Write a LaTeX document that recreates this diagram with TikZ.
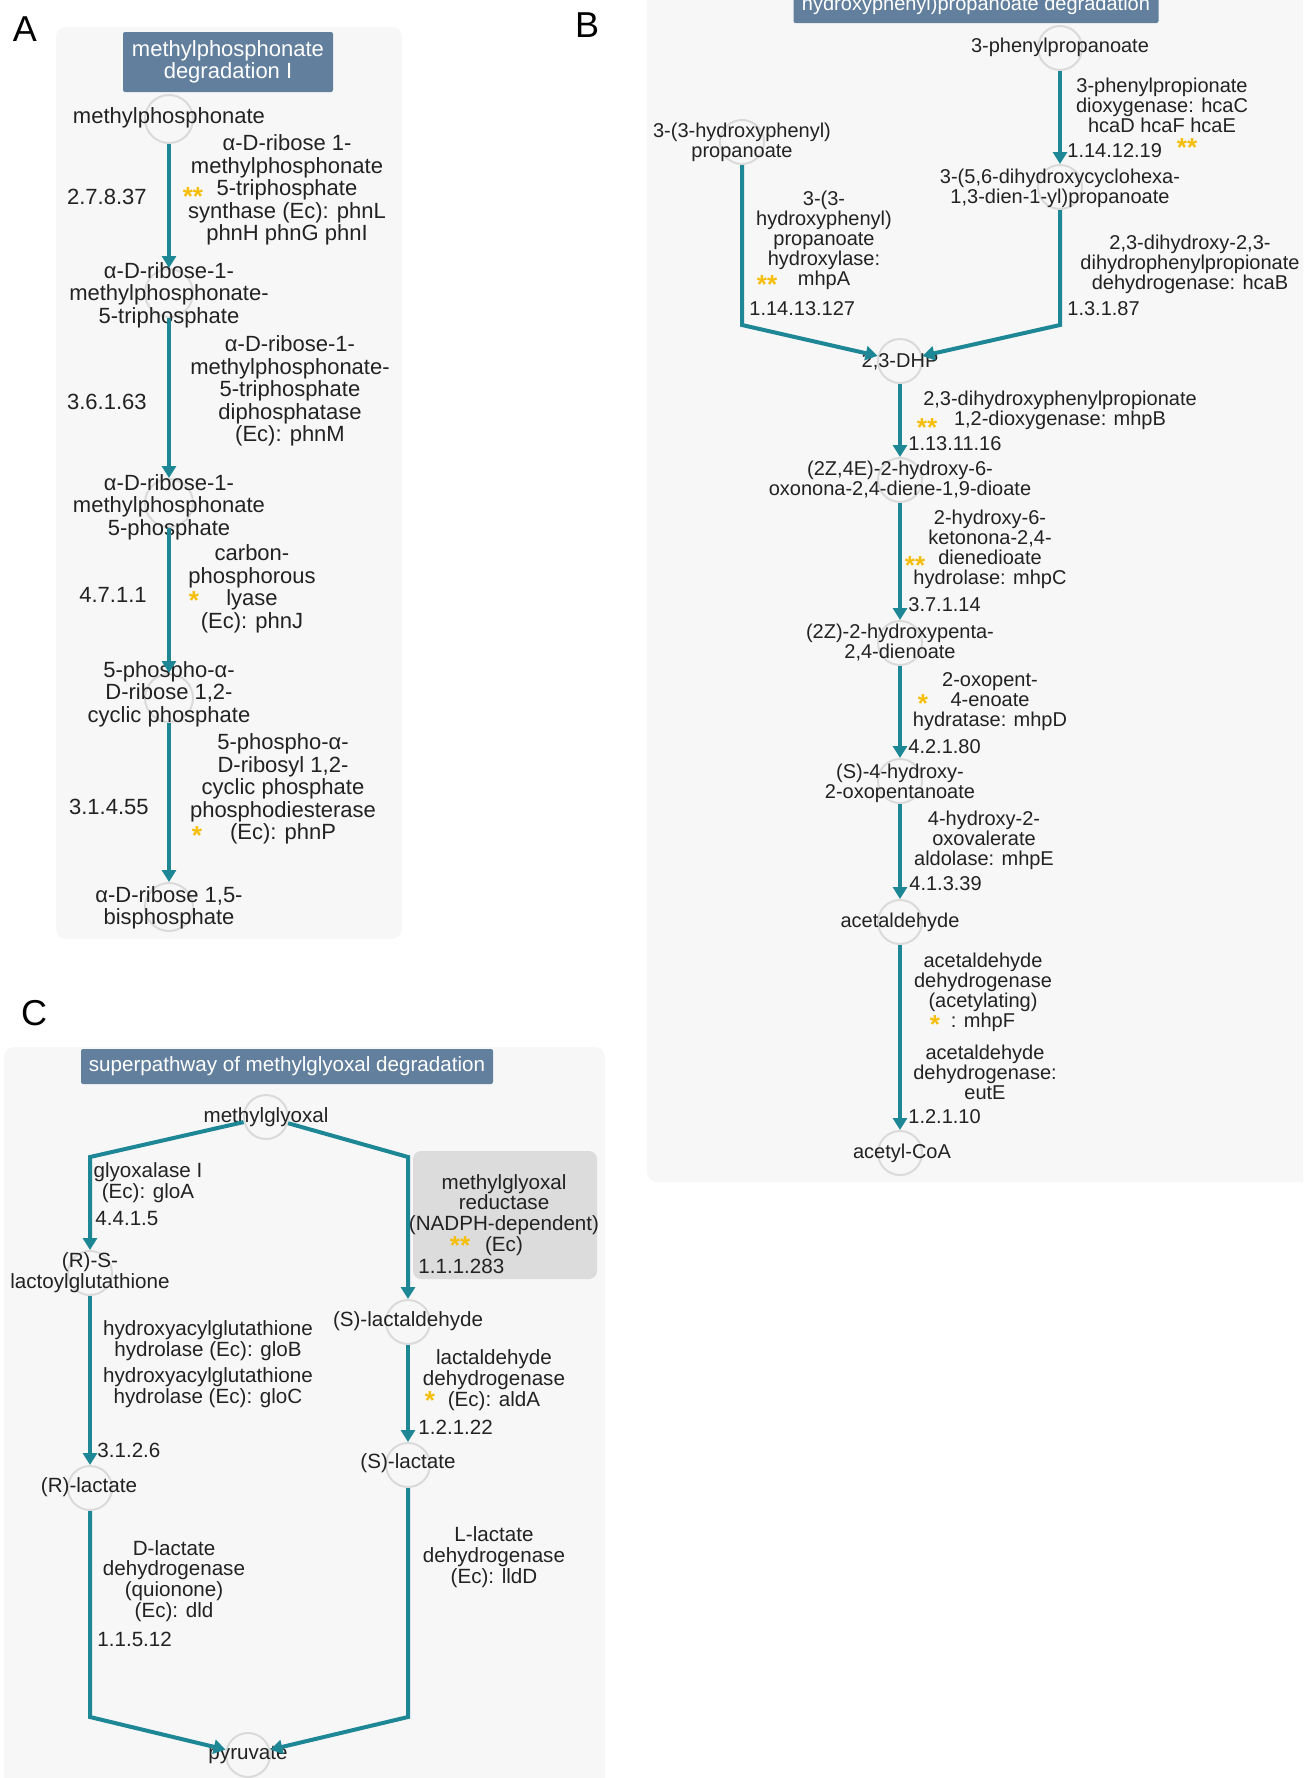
\documentclass[tikz,border=0pt]{standalone}
\usepackage{fontspec}
\setmainfont{Liberation Sans}
\usepackage{tikz}
\usetikzlibrary{arrows.meta}
\definecolor{PanelGrey}{HTML}{F7F7F7}
\definecolor{TitleBlue}{HTML}{62809D}
\definecolor{RingGrey}{HTML}{DADADA}
\definecolor{PathTeal}{HTML}{1E8795}
\definecolor{TextDark}{HTML}{222222}
\definecolor{StarGold}{HTML}{F5BE0B}
\definecolor{BoxGrey}{HTML}{DCDCDC}
\tikzset{
    % Panel and title styles
    panelbg/.style={
        fill=PanelGrey,
        draw=none,
        rounded corners=5pt
    },
    titlebox/.style={
        rectangle,
        fill=TitleBlue,
        draw=none,
        rounded corners=1pt,
        text=white,
        align=center,
        inner sep=0pt
    },
    hlbox/.style={
        rectangle,
        fill=BoxGrey,
        draw=none,
        rounded corners=4pt
    },
    panellabel/.style={
        inner sep=0pt,
        text=black,
        font=\fontsize{18}{18}\selectfont
    },
    % Compound styles
    cpdring/.style={
        circle,
        draw=RingGrey,
        line width=1pt,
        inner sep=0pt,
        minimum size=22pt
    },
    cpdname/.style={
        align=center,
        inner sep=0pt,
        text=TextDark
    },
    % Reaction styles
    enzlabel/.style={
        align=center,
        inner sep=0pt,
        text=TextDark
    },
    eclabel/.style={
        inner sep=0pt,
        text=TextDark
    },
    starmark/.style={
        inner sep=0pt,
        text=StarGold,
        font=\fontsize{13}{13}\selectfont\bfseries
    },
    rxnarrow/.style={
        -{Triangle[width=7pt,length=6pt]},
        draw=PathTeal,
        line width=2pt
    },
    % Font sizes of the three panels
    txtA/.style={font=\fontsize{11}{11.25}\selectfont},
    txtB/.style={font=\fontsize{10}{10}\selectfont},
    txtC/.style={font=\fontsize{10.3}{10.4}\selectfont}
}
\begin{document}
\begin{tikzpicture}[x=0.5pt, y=-0.5pt]
    \useasboundingbox (0,0) rectangle (1303,1778);
    \clip (0,0) rectangle (1303,1778);

    % ---------------- Panel A ----------------
    \fill[panelbg] (56,27) rectangle (402,939);
    \node[panellabel] (labA) at (25,29) {A};
    \node[titlebox, txtA, minimum width=105pt, minimum height=30pt] (titA) at (228,62) {methylphosphonate\\degradation I};

    % Compounds
    \node[cpdring, minimum size=24pt] (a1) at (169,119) {};
    \node[cpdring, minimum size=24pt] (a2) at (169,293) {};
    \node[cpdring, minimum size=24pt] (a3) at (169,503) {};
    \node[cpdring, minimum size=24pt] (a4) at (169,698) {};
    \node[cpdring, minimum size=24pt] (a5) at (169,907) {};
    \node[cpdname, txtA] (a1t) at (169,118) {methylphosphonate};
    \node[cpdname, txtA] (a2t) at (169,295) {α-D-ribose-1-\\methylphosphonate-\\5-triphosphate};
    \node[cpdname, txtA] (a3t) at (169,507) {α-D-ribose-1-\\methylphosphonate\\5-phosphate};
    \node[cpdname, txtA] (a4t) at (169,694) {5-phospho-α-\\D-ribose 1,2-\\cyclic phosphate};
    \node[cpdname, txtA] (a5t) at (169,908) {α-D-ribose 1,5-\\bisphosphate};

    % Enzymes
    \node[enzlabel, txtA] (ea1) at (287,190) {α-D-ribose 1-\\methylphosphonate\\5-triphosphate\\synthase (Ec): phnL\\phnH phnG phnI};
    \node[enzlabel, txtA] (ea2) at (290,391) {α-D-ribose-1-\\methylphosphonate-\\5-triphosphate\\diphosphatase\\(Ec): phnM};
    \node[enzlabel, txtA] (ea3) at (252,589) {carbon-\\phosphorous\\lyase\\(Ec): phnJ};
    \node[enzlabel, txtA] (ea4) at (283,789) {5-phospho-α-\\D-ribosyl 1,2-\\cyclic phosphate\\phosphodiesterase\\(Ec): phnP};
    \node[starmark] (sa1) at (193,197) {**};
    \node[starmark] (sa3) at (194,601) {*};
    \node[starmark] (sa4) at (197,836) {*};
    \node[eclabel, txtA, anchor=east] (eca1) at (147,197) {2.7.8.37};
    \node[eclabel, txtA, anchor=east] (eca2) at (147,402) {3.6.1.63};
    \node[eclabel, txtA, anchor=east] (eca3) at (147,595) {4.7.1.1};
    \node[eclabel, txtA, anchor=east] (eca4) at (149,807) {3.1.4.55};

    % Arrows
    \draw[rxnarrow] (a1) -- (a2);
    \draw[rxnarrow] (a2) -- (a3);
    \draw[rxnarrow] (a3) -- (a4);
    \draw[rxnarrow] (a4) -- (a5);

    % ---------------- Panel B ----------------
    \fill[panelbg] (647,-20) rectangle (1320,1182);
    \node[panellabel] (labB) at (587,25) {B};
    \node[titlebox, minimum width=182.5pt, minimum height=26.5pt] (titB) at (976,-3.5) {};
    \node[txtB, text=white, inner sep=0pt, anchor=base] (titBt) at (976,10) {hydroxyphenyl)propanoate degradation};

    % Compounds
    \node[cpdring] (b1) at (1060,48) {};
    \node[cpdring] (b2) at (1060,187) {};
    \node[cpdring] (b3) at (742,142) {};
    \node[cpdring] (b4) at (900,361) {};
    \node[cpdring] (b5) at (900,480) {};
    \node[cpdring] (b6) at (900,643) {};
    \node[cpdring] (b7) at (900,781) {};
    \node[cpdring] (b8) at (900,922) {};
    \node[cpdring] (b9) at (900,1153) {};
    \node[cpdname, txtB] (b1t) at (1060,47) {3-phenylpropanoate};
    \node[cpdname, txtB] (b2t) at (1060,188) {3-(5,6-dihydroxycyclohexa-\\1,3-dien-1-yl)propanoate};
    \node[cpdname, txtB] (b3t) at (742,142) {3-(3-hydroxyphenyl)\\propanoate};
    \node[cpdname, txtB] (b4t) at (900,362) {2,3-DHP};
    \node[cpdname, txtB] (b5t) at (900,480) {(2Z,4E)-2-hydroxy-6-\\oxonona-2,4-diene-1,9-dioate};
    \node[cpdname, txtB] (b6t) at (900,643) {(2Z)-2-hydroxypenta-\\2,4-dienoate};
    \node[cpdname, txtB] (b7t) at (900,783) {(S)-4-hydroxy-\\2-oxopentanoate};
    \node[cpdname, txtB] (b8t) at (900,922) {acetaldehyde};
    \node[cpdname, txtB] (b9t) at (902,1153) {acetyl-CoA};

    % Enzymes
    \node[enzlabel, txtB] (eb1) at (1162,105) {3-phenylpropionate\\dioxygenase: hcaC\\hcaD hcaF hcaE};
    \node[enzlabel, txtB] (eb2) at (824,240) {3-(3-\\hydroxyphenyl)\\propanoate\\hydroxylase:\\mhpA};
    \node[enzlabel, txtB] (eb3) at (1190,264) {2,3-dihydroxy-2,3-\\dihydrophenylpropionate\\dehydrogenase: hcaB};
    \node[enzlabel, txtB] (eb4) at (1060,410) {2,3-dihydroxyphenylpropionate\\1,2-dioxygenase: mhpB};
    \node[enzlabel, txtB] (eb5) at (990,549) {2-hydroxy-6-\\ketonona-2,4-\\dienedioate\\hydrolase: mhpC};
    \node[enzlabel, txtB] (eb6) at (990,702) {2-oxopent-\\4-enoate\\hydratase: mhpD};
    \node[enzlabel, txtB] (eb7) at (984,840) {4-hydroxy-2-\\oxovalerate\\aldolase: mhpE};
    \node[enzlabel, txtB] (eb8) at (983,992) {acetaldehyde\\dehydrogenase\\(acetylating)\\: mhpF};
    \node[enzlabel, txtB] (eb9) at (985,1072) {acetaldehyde\\dehydrogenase:\\eutE};
    \node[starmark] (sb1) at (1187,148) {**};
    \node[starmark] (sb2) at (767,285) {**};
    \node[starmark] (sb4) at (927,428) {**};
    \node[starmark] (sb5) at (915,566) {**};
    \node[starmark] (sb6) at (923,704) {*};
    \node[starmark] (sb8) at (935,1025) {*};
    \node[eclabel, txtB, anchor=west] (ecb1) at (1067,151) {1.14.12.19};
    \node[eclabel, txtB, anchor=west] (ecb2) at (749,309) {1.14.13.127};
    \node[eclabel, txtB, anchor=west] (ecb3) at (1067,309) {1.3.1.87};
    \node[eclabel, txtB, anchor=west] (ecb4) at (908,444) {1.13.11.16};
    \node[eclabel, txtB, anchor=west] (ecb5) at (908,605) {3.7.1.14};
    \node[eclabel, txtB, anchor=west] (ecb6) at (908,747) {4.2.1.80};
    \node[eclabel, txtB, anchor=west] (ecb7) at (909,884) {4.1.3.39};
    \node[eclabel, txtB, anchor=west] (ecb8) at (908,1117) {1.2.1.10};

    % Arrows
    \coordinate (bl) at (742,325);
    \coordinate (br) at (1060,325);
    \draw[rxnarrow] (b1) -- (b2);
    \draw[rxnarrow] (b3) -- (bl) -- (b4);
    \draw[rxnarrow] (b2) -- (br) -- (b4);
    \draw[rxnarrow] (b4) -- (b5);
    \draw[rxnarrow] (b5) -- (b6);
    \draw[rxnarrow] (b6) -- (b7);
    \draw[rxnarrow] (b7) -- (b8);
    \draw[rxnarrow] (b8) -- (b9);

    % ---------------- Panel C ----------------
    \fill[panelbg] (4,1047) rectangle (605,1800);
    \node[panellabel] (labC) at (34,1013) {C};
    \node[titlebox, txtC, minimum width=206pt, minimum height=17.5pt] (titC) at (287,1066.5) {superpathway of methylglyoxal degradation};
    \node[hlbox, minimum width=92pt, minimum height=64pt] (rbox) at (505,1215) {};

    % Compounds
    \node[cpdring] (c1) at (266,1117) {};
    \node[cpdring] (c2) at (90,1273) {};
    \node[cpdring] (c3) at (408,1322) {};
    \node[cpdring] (c4) at (90,1488) {};
    \node[cpdring] (c5) at (408,1465) {};
    \node[cpdring] (c6) at (248,1755) {};
    \node[cpdname, txtC] (c1t) at (266,1117) {methylglyoxal};
    \node[cpdname, txtC] (c2t) at (90,1273) {(R)-S-\\lactoylglutathione};
    \node[cpdname, txtC] (c3t) at (408,1321) {(S)-lactaldehyde};
    \node[cpdname, txtC] (c4t) at (89,1487) {(R)-lactate};
    \node[cpdname, txtC] (c5t) at (408,1463) {(S)-lactate};
    \node[cpdname, txtC] (c6t) at (248,1755) {pyruvate};

    % Enzymes
    \node[enzlabel, txtC] (ec1) at (148,1183) {glyoxalase I\\(Ec): gloA};
    \node[enzlabel, txtC] (ec2) at (504,1215) {methylglyoxal\\reductase\\(NADPH-dependent)\\(Ec)};
    \node[enzlabel, txtC] (ec3) at (208,1341) {hydroxyacylglutathione\\hydrolase (Ec): gloB};
    \node[enzlabel, txtC] (ec4) at (208,1388) {hydroxyacylglutathione\\hydrolase (Ec): gloC};
    \node[enzlabel, txtC] (ec5) at (494,1380) {lactaldehyde\\dehydrogenase\\(Ec): aldA};
    \node[enzlabel, txtC] (ec6) at (174,1581) {D-lactate\\dehydrogenase\\(quionone)\\(Ec): dld};
    \node[enzlabel, txtC] (ec7) at (494,1557) {L-lactate\\dehydrogenase\\(Ec): lldD};
    \node[starmark] (sc2) at (460,1246) {**};
    \node[starmark] (sc5) at (430,1401) {*};
    \node[eclabel, txtC, anchor=west] (ecc1) at (95,1218) {4.4.1.5};
    \node[eclabel, txtC, anchor=west] (ecc2) at (418,1266) {1.1.1.283};
    \node[eclabel, txtC, anchor=west] (ecc3) at (97,1450) {3.1.2.6};
    \node[eclabel, txtC, anchor=west] (ecc5) at (418,1427) {1.2.1.22};
    \node[eclabel, txtC, anchor=west] (ecc6) at (97,1639) {1.1.5.12};

    % Arrows
    \coordinate (cl) at (90,1157);
    \coordinate (cr) at (408,1157);
    \coordinate (pl) at (90,1717);
    \coordinate (pr) at (408,1717);
    \draw[rxnarrow] (c1) -- (cl) -- (c2);
    \draw[rxnarrow] (c1) -- (cr) -- (c3);
    \draw[rxnarrow] (c2) -- (c4);
    \draw[rxnarrow] (c3) -- (c5);
    \draw[rxnarrow] (c4) -- (pl) -- (c6);
    \draw[rxnarrow] (c5) -- (pr) -- (c6);
\end{tikzpicture}
\end{document}
